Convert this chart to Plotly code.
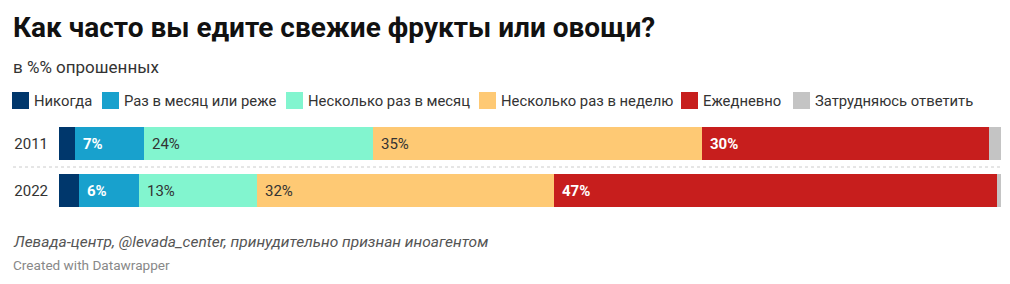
import plotly.graph_objects as go

# ---- data ----
years = ["2011", "2022"]
categories = ["Никогда", "Раз в месяц или реже", "Несколько раз в месяц",
              "Несколько раз в неделю", "Ежедневно", "Затрудняюсь ответить"]
never = [1.7, 2.1]
monthly_or_less = [7.3, 6.4]
several_month = [24.3, 12.5]
several_week = [35.0, 31.5]
daily = [30.4, 47.1]
hard_to_say = [1.3, 0.4]
series = [never, monthly_or_less, several_month, several_week, daily, hard_to_say]
labels = [["", ""], ["7%", "6%"], ["24%", "13%"], ["35%", "32%"], ["30%", "47%"], ["", ""]]

colors = ["#00376c", "#18a1cd", "#82f5cf", "#fec974", "#c71e1d", "#c4c4c4"]
label_colors = ["#ffffff", "#ffffff", "#333333", "#333333", "#ffffff", "#333333"]
label_weights = ["bold", "bold", "normal", "normal", "bold", "normal"]

W, H = 1010, 284
L, R, T, B = 59, 9, 120, 70
PW, PH = W - L - R, H - T - B


def px(x):
    return (x - L) / PW


def py(y):
    return (H - B - y) / PH


fig = go.Figure()
for name, vals, col in zip(categories, series, colors):
    fig.add_trace(go.Bar(
        y=years, x=vals, name=name, orientation="h",
        marker=dict(color=col, line=dict(width=0)),
        showlegend=False, hoverinfo="skip",
    ))

annotations = []
# segment labels, anchored at segment start (y = category index)
for yi, yr in enumerate(years):
    start = 0.0
    for si, vals in enumerate(series):
        txt = labels[si][yi]
        if txt:
            annotations.append(dict(
                x=start, y=yi, xref="x", yref="y", text=txt, showarrow=False,
                xanchor="left", yanchor="middle", xshift=6,
                font=dict(family="Roboto", size=15, color=label_colors[si],
                          weight=label_weights[si]),
            ))
        start += vals[yi]

# title / subtitle / footer
annotations += [
    dict(x=px(11), y=py(27), xref="paper", yref="paper", xanchor="left", yanchor="middle",
         text="<b>Как часто вы едите свежие фрукты или овощи?</b>", showarrow=False,
         font=dict(family="Roboto", size=28, color="#111111")),
    dict(x=px(11), y=py(67), xref="paper", yref="paper", xanchor="left", yanchor="middle",
         text="в %% опрошенных", showarrow=False,
         font=dict(family="Roboto", size=17, color="#333333")),
    dict(x=px(11), y=py(242), xref="paper", yref="paper", xanchor="left", yanchor="middle",
         text="<i>Левада-центр, @levada_center, принудительно признан иноагентом</i>",
         showarrow=False, font=dict(family="Roboto", size=15.5, color="#555555")),
    dict(x=px(11), y=py(265), xref="paper", yref="paper", xanchor="left", yanchor="middle",
         text="Created with Datawrapper", showarrow=False,
         font=dict(family="Roboto", size=13.6, color="#888888")),
]

shapes = []
# legend (manual, datawrapper style)
legend_x = [12, 102, 286, 479, 681, 793]
for name, col, lx in zip(categories, colors, legend_x):
    shapes.append(dict(type="rect", xref="paper", yref="paper",
                       x0=px(lx), x1=px(lx + 17), y0=py(109), y1=py(92),
                       fillcolor=col, line=dict(width=0)))
    annotations.append(dict(x=px(lx + 20), y=py(100.5), xref="paper", yref="paper",
                            xanchor="left", yanchor="middle", text=name, showarrow=False,
                            font=dict(family="Roboto", size=14.8, color="#333333")))

# dotted separator between rows (paper coords: midway between the two rows)
shapes.append(dict(type="line", xref="paper", yref="paper", x0=px(13), x1=1.0,
                   y0=0.5, y1=0.5, line=dict(color="#cccccc", width=1, dash="dot")))

fig.update_layout(
    width=W, height=H, barmode="stack", bargap=0.277,
    margin=dict(l=L, r=R, t=T, b=B, pad=0),
    paper_bgcolor="white", plot_bgcolor="white",
    xaxis=dict(range=[0, 100], visible=False, fixedrange=True),
    yaxis=dict(type="category", categoryorder="array", categoryarray=years,
               range=[1.5, -0.5], autorange=False, showgrid=False, zeroline=False,
               showline=False, ticks="", ticklabelstandoff=10,
               tickfont=dict(family="Roboto", size=15, color="#333333")),
    annotations=annotations, shapes=shapes, showlegend=False,
)

fig.write_html("out.html")
